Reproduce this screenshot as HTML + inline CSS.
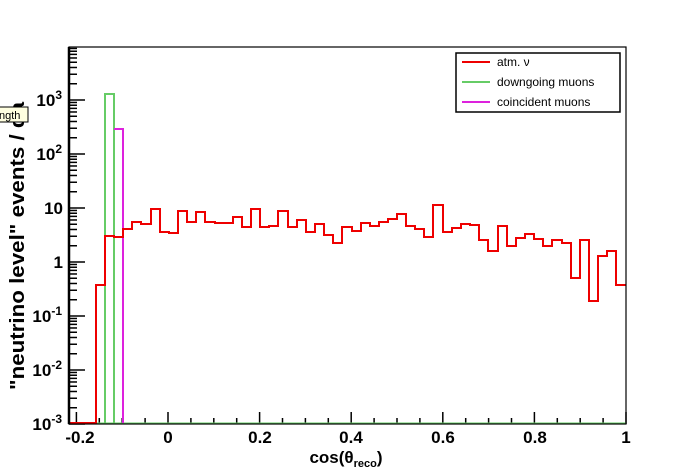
<!DOCTYPE html>
<html><head><meta charset="utf-8"><style>
body{margin:0;background:#fff;}
svg{display:block;font-family:"Liberation Sans",sans-serif;}
</style></head><body>
<svg id="s" width="696" height="472" viewBox="0 0 696 472">
<rect width="696" height="472" fill="#fff"/>
<g id="ticks" stroke="#000" stroke-width="1.5"></g>
<path d="M69,423.5 H626" stroke="#6c6" stroke-width="2" fill="none"/>
<path d="M105,423 V94 H114 V423" stroke="#6c6" stroke-width="2" fill="none"/>
<path d="M114,129 H123 V423" stroke="#d2d" stroke-width="2" fill="none"/>
<path d="M69,423 H96 V285 H105 V236 H114 V237 H123 V229 H132 V222 H141 V224 H151 V209 H160 V232 H169 V233 H178 V211 H187 V222 H196 V212 H205 V222 H215 V223 H233 V217 H242 V227 H251 V209 H260 V227 H269 V226 H278 V211 H288 V227 H297 V220 H306 V232 H315 V224 H324 V235 H333 V243 H342 V227 H352 V231 H361 V223 H370 V226 H379 V222 H388 V219 H397 V214 H406 V226 H415 V229 H424 V237 H433 V205 H443 V232 H452 V228 H461 V224 H470 V225 H479 V240 H488 V251 H498 V226 H507 V246 H516 V238 H525 V234 H534 V239 H543 V246 H552 V240 H562 V243 H571 V278 H580 V240 H589 V301 H598 V256 H607 V251 H616 V285 H626" stroke="#e00" stroke-width="2" fill="none"/>
<rect x="69" y="47" width="557" height="377" fill="none" stroke="#000" stroke-width="1.2"/>
<line x1="69" y1="47" x2="69" y2="424" stroke="#000" stroke-width="2.5"/>
<g font-weight="bold" font-size="17" text-anchor="end">
<text x="62" y="106">10<tspan dy="-7" font-size="12">3</tspan></text>
<text x="62" y="160">10<tspan dy="-7" font-size="12">2</tspan></text>
<text x="63" y="214">10</text>
<text x="63" y="268">1</text>
<text x="62" y="322">10<tspan dy="-7" font-size="12">-1</tspan></text>
<text x="62" y="376">10<tspan dy="-7" font-size="12">-2</tspan></text>
<text x="62" y="430">10<tspan dy="-7" font-size="12">-3</tspan></text>
</g>
<g font-weight="bold" font-size="17" text-anchor="middle">
<text x="80" y="443">-0.2</text>
<text x="168" y="443">0</text>
<text x="260" y="443">0.2</text>
<text x="351" y="443">0.4</text>
<text x="443" y="443">0.6</text>
<text x="535" y="443">0.8</text>
<text x="626" y="443">1</text>
<text x="346" y="463">cos(θ<tspan font-size="11" dy="4">reco</tspan><tspan dy="-4">)</tspan></text>
</g>
<text transform="translate(24,390) rotate(-90)" font-weight="bold" font-size="20" textLength="288" lengthAdjust="spacingAndGlyphs">"neutrino level" events / da</text>
<rect x="-2" y="107" width="30" height="15" fill="#ffffe0" stroke="#000" stroke-width="1"/>
<text x="-1" y="119" font-size="11">ngth</text>
<rect x="456" y="53" width="164" height="59" fill="#fff" stroke="#000" stroke-width="1.5"/>
<line x1="462" y1="62" x2="490" y2="62" stroke="#e00" stroke-width="2"/>
<line x1="462" y1="82" x2="490" y2="82" stroke="#6c6" stroke-width="2"/>
<line x1="462" y1="102" x2="490" y2="102" stroke="#d2d" stroke-width="2"/>
<g font-size="12"><text x="497" y="66">atm. ν</text><text x="497" y="86">downgoing muons</text><text x="497" y="106">coincident muons</text></g>
</svg>
<script>
var g=document.getElementById('ticks'),h='';
function L(a,b,c,d){h+='<line x1="'+a+'" y1="'+b+'" x2="'+c+'" y2="'+d+'"/>';}
for(var k=-4;k<=20;k++){var v=k*0.05;var x=168+v*458;if(x<69||x>627)continue;var big=(k%4==0);L(x,424,x,big?412:418);}
for(var d=-3;d<4;d++){for(var m=1;m<10;m++){var y=424-(d+3+Math.log10(m))*54;if(y<47)continue;L(69,y,m==1?85:77,y);}}
g.innerHTML=h;
</script>
</body></html>
